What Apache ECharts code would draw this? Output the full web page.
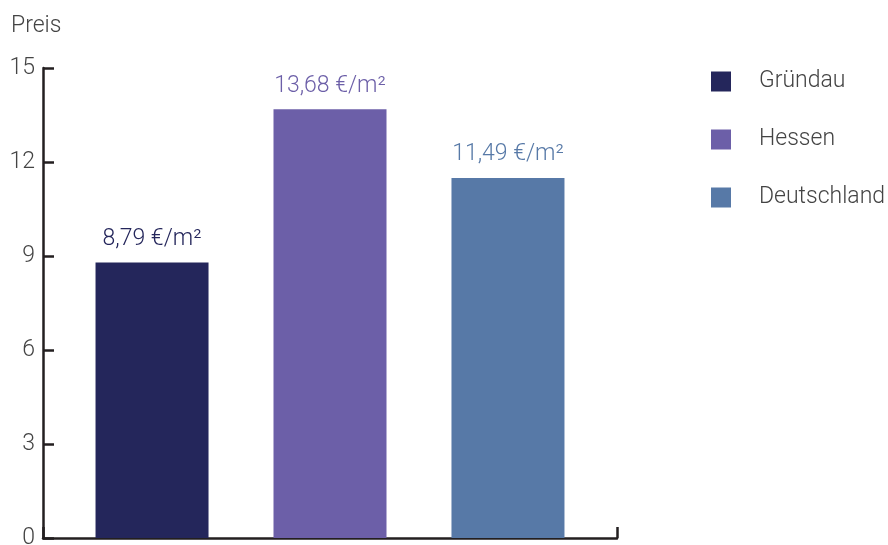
<!DOCTYPE html>
<html>
<head>
<meta charset="utf-8">
<script src="https://cdn.jsdelivr.net/npm/echarts@6/dist/echarts.min.js"></script>
<style>
html,body{margin:0;padding:0;background:#fff;}
#chart{width:888px;height:545px;}
</style>
</head>
<body>
<div id="chart"></div>
<script>
const seriesNames = ['Gründau', 'Hessen', 'Deutschland'];
const seriesValues = [8.79, 13.68, 11.49];
const seriesColors = ['#24265b', '#6c5fa8', '#5779a7'];
const yTicks = { min: 0, max: 15, interval: 3 };
const yAxisName = 'Preis';
const unit = '€/m²';

const FONT = 'Roboto';
const FS = 23;
const chart = echarts.init(document.getElementById('chart'), null, { renderer: 'canvas' });

const series = seriesNames.map((name, i) => ({
  name: name,
  type: 'bar',
  data: [seriesValues[i]],
  barWidth: 113,
  barGap: '57.5%',
  itemStyle: { color: seriesColors[i] },
  label: {
    show: true,
    position: 'top',
    distance: 12,
    color: seriesColors[i],
    fontFamily: FONT,
    fontWeight: 300,
    fontSize: FS,
    formatter: p => p.value.toFixed(2).replace('.', ',') + ' ' + unit
  }
}));

chart.setOption({
  animation: false,
  textStyle: { fontFamily: FONT },
  grid: { left: 43, right: 271, top: 68, bottom: 7, containLabel: false, outerBoundsMode: 'none' },
  legend: {
    orient: 'vertical',
    left: 706,
    top: 65,
    itemWidth: 20,
    itemHeight: 20,
    itemGap: 35,
    icon: 'rect',
    textStyle: { fontFamily: FONT, fontWeight: 300, fontSize: FS, color: '#444', padding: [5, 0, 0, 23] },
    data: seriesNames
  },
  xAxis: {
    type: 'category',
    data: [''],
    boundaryGap: true,
    axisLine: { show: true, lineStyle: { color: '#231f20', width: 2.5 } },
    axisTick: { show: true, inside: true, length: 11, lineStyle: { color: '#231f20', width: 2.5 } },
    axisLabel: { show: false },
    splitLine: { show: false }
  },
  yAxis: {
    type: 'value',
    min: yTicks.min,
    max: yTicks.max,
    interval: yTicks.interval,
    name: yAxisName,
    nameLocation: 'end',
    nameGap: 0,
    nameTextStyle: { fontFamily: FONT, fontWeight: 300, fontSize: FS, color: '#444', align: 'left', padding: [0, 0, 30, -32] },
    axisLine: { show: true, lineStyle: { color: '#231f20', width: 2.5 } },
    axisTick: { show: true, inside: true, length: 11, lineStyle: { color: '#231f20', width: 2.5 } },
    axisLabel: { fontFamily: FONT, fontWeight: 300, fontSize: FS, color: '#444', margin: 8 },
    splitLine: { show: false }
  },
  series: series
});
</script>
</body>
</html>
